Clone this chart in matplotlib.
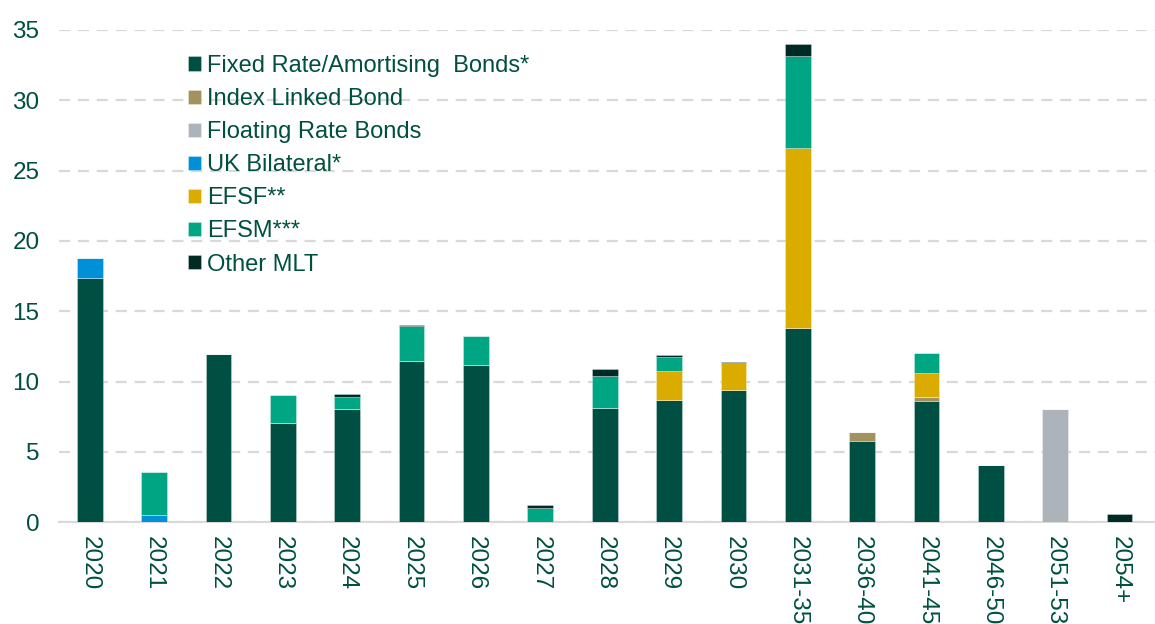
import numpy as np
import matplotlib.pyplot as plt

plt.rcParams['font.family'] = ['Liberation Sans', 'DejaVu Sans']

periods = ["2020", "2021", "2022", "2023", "2024", "2025", "2026", "2027", "2028",
           "2029", "2030", "2031-35", "2036-40", "2041-45", "2046-50", "2051-53", "2054+"]

# EUR bn
fixed    = [17.35, 0.0, 11.95, 7.04, 8.04, 11.5, 11.19, 0.0, 8.09, 8.7, 9.41, 13.8, 5.78, 8.63, 4.1, 0.0, 0.0]
index_lk = [0.0, 0.0, 0.0, 0.0, 0.0, 0.0, 0.0, 0.0, 0.0, 0.0, 0.0, 0.0, 0.64, 0.31, 0.0, 0.0, 0.0]
floating = [0.0, 0.0, 0.0, 0.0, 0.0, 0.0, 0.0, 0.0, 0.0, 0.0, 0.0, 0.0, 0.0, 0.0, 0.0, 8.04, 0.0]
uk_bil   = [1.43, 0.5, 0.0, 0.0, 0.0, 0.0, 0.0, 0.0, 0.0, 0.0, 0.0, 0.0, 0.0, 0.0, 0.0, 0.0, 0.0]
efsf     = [0.0, 0.0, 0.0, 0.0, 0.0, 0.0, 0.0, 0.0, 0.0, 2.09, 1.92, 12.8, 0.0, 1.66, 0.0, 0.0, 0.0]
efsm     = [0.0, 3.05, 0.0, 1.99, 0.86, 2.44, 2.04, 1.03, 2.32, 0.97, 0.0, 6.54, 0.0, 1.47, 0.0, 0.0, 0.0]
other    = [0.0, 0.0, 0.0, 0.0, 0.2, 0.09, 0.0, 0.17, 0.47, 0.12, 0.1, 0.86, 0.0, 0.0, 0.0, 0.0, 0.6]

series = [
    ("Fixed Rate/Amortising  Bonds*", fixed, "#004F43"),
    ("Index Linked Bond", index_lk, "#A39260"),
    ("Floating Rate Bonds", floating, "#ADB3BA"),
    ("UK Bilateral*", uk_bil, "#0090D8"),
    ("EFSF**", efsf, "#DAAC00"),
    ("EFSM***", efsm, "#00A584"),
    ("Other MLT", other, "#002B25"),
]

txt = "#00503F"

fig = plt.figure(figsize=(11.55, 6.24), dpi=100)
ax = fig.add_axes([0.051, 0.163, 0.949, 0.789])

x = np.arange(len(periods))
bottom = np.zeros(len(periods))
for name, vals, col in series:
    vals = np.array(vals)
    ax.bar(x, vals, width=0.4, bottom=bottom, color=col, label=name,
           edgecolor=(1, 1, 1, 0.35), linewidth=0.6, zorder=3)
    bottom += vals

ax.set_ylim(0, 35)
ax.set_xlim(-0.48, 16.55)
ax.set_yticks(np.arange(0, 36, 5))
ax.set_xticks(x)
ax.set_xticklabels(periods, rotation=270, fontsize=17.5, color=txt)
ax.tick_params(axis='y', length=0, pad=14, labelsize=17.5, labelcolor=txt)
ax.tick_params(axis='x', length=0, pad=10)
for lab in ax.get_yticklabels():
    lab.set_horizontalalignment('right')

ax.yaxis.grid(True, color="#D9D9D9", linestyle=(0, (5, 3.5)), linewidth=1.6, zorder=0)
for s in ["top", "right", "left"]:
    ax.spines[s].set_visible(False)
ax.spines["bottom"].set_color("#D9D9D9")
ax.spines["bottom"].set_linewidth(1.5)

leg = ax.legend(loc="upper left", bbox_to_anchor=(0.105, 0.978), frameon=False,
                fontsize=17, handlelength=0.55, handleheight=0.55,
                handletextpad=0.25, labelspacing=0.47, borderaxespad=0.2)
for t in leg.get_texts():
    t.set_color(txt)

fig.savefig("out.png", dpi=100)
